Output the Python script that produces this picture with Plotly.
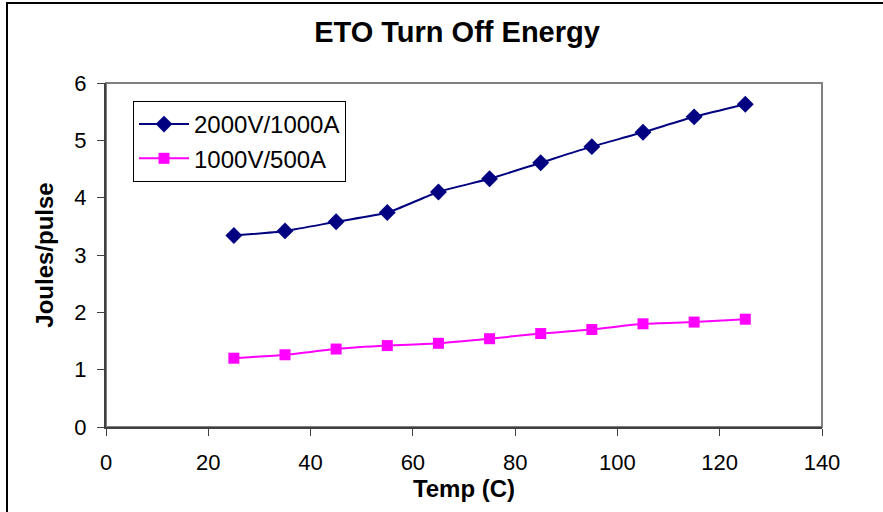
import plotly.graph_objects as go

temps = [25, 35, 45, 55, 65, 75, 85, 95, 105, 115, 125]
e_2000v = [3.34, 3.42, 3.58, 3.74, 4.10, 4.33, 4.61, 4.89, 5.14, 5.41, 5.63]
e_1000v = [1.20, 1.26, 1.36, 1.42, 1.46, 1.54, 1.63, 1.70, 1.80, 1.83, 1.88]
names = ["2000V/1000A", "1000V/500A"]
x_ticks = [0, 20, 40, 60, 80, 100, 120, 140]
y_ticks = [0, 1, 2, 3, 4, 5, 6]

W, H = 883, 512
L, R, T, B = 106, 822, 83, 427
FONT = "Liberation Sans, Arial, sans-serif"

fig = go.Figure()
fig.add_trace(go.Scatter(
    x=temps, y=e_2000v, name=names[0], mode="lines+markers", legendgroup="a",
    line=dict(color="#000080", width=2, shape="spline", smoothing=0.6),
    marker=dict(symbol="diamond", size=13, color="#000080"),
))
fig.add_trace(go.Scatter(
    x=temps, y=e_1000v, name=names[1], mode="lines+markers", legendgroup="b",
    line=dict(color="#FF00FF", width=2, shape="spline", smoothing=0.6),
    marker=dict(symbol="square", size=11, color="#FF00FF"),
))

fig.update_layout(
    width=W, height=H,
    margin=dict(l=L, r=W - R, t=T, b=H - B, pad=0),
    paper_bgcolor="white", plot_bgcolor="white",
    font=dict(family=FONT, color="black", size=19),
    title=dict(text="<b>ETO Turn Off Energy</b>", x=457 / W, xanchor="center",
               y=1 - 32 / H, yanchor="middle", font=dict(size=29, family=FONT)),
    showlegend=True,
    legend=dict(x=(133 - L) / (R - L), y=(T - 101) / (B - T) + 1, xanchor="left", yanchor="top",
                bordercolor="black", borderwidth=1, bgcolor="white",
                font=dict(size=24, family=FONT), itemwidth=50,
                traceorder="grouped", tracegroupgap=0),
    xaxis=dict(range=[0, 140], tickvals=x_ticks, ticktext=[str(v) for v in x_ticks],
               showgrid=False, zeroline=False, showline=True, linecolor="#404040", linewidth=2,
               ticks="outside", ticklen=7, tickcolor="#404040", tickwidth=1,
               ticklabelstandoff=8, tickfont=dict(size=22),
               title=dict(text="<b>Temp (C)</b>", font=dict(size=24), standoff=4)),
    yaxis=dict(range=[0, 6], tickvals=y_ticks, ticktext=[str(v) for v in y_ticks],
               showgrid=False, zeroline=False, showline=True, linecolor="#404040", linewidth=2,
               ticks="outside", ticklen=7, tickcolor="#404040", tickwidth=1,
               ticklabelstandoff=6, tickfont=dict(size=22),
               title=dict(text="<b>Joules/pulse</b>", font=dict(size=24), standoff=14)),
)

# plot-area frame (top/right in gray)
fig.add_shape(type="rect", xref="paper", yref="paper", x0=0, x1=1, y0=0, y1=1,
              line=dict(color="#808080", width=2), layer="below")
# outer chart border (extends past the right and bottom edges)
fig.add_shape(type="rect", xref="paper", yref="paper",
              x0=(7 - L) / (R - L), x1=(W + 20 - L) / (R - L),
              y0=1 - (H + 20 - T) / (B - T), y1=1 - (3 - T) / (B - T),
              line=dict(color="black", width=2), layer="below")

fig.write_html("out.html")
